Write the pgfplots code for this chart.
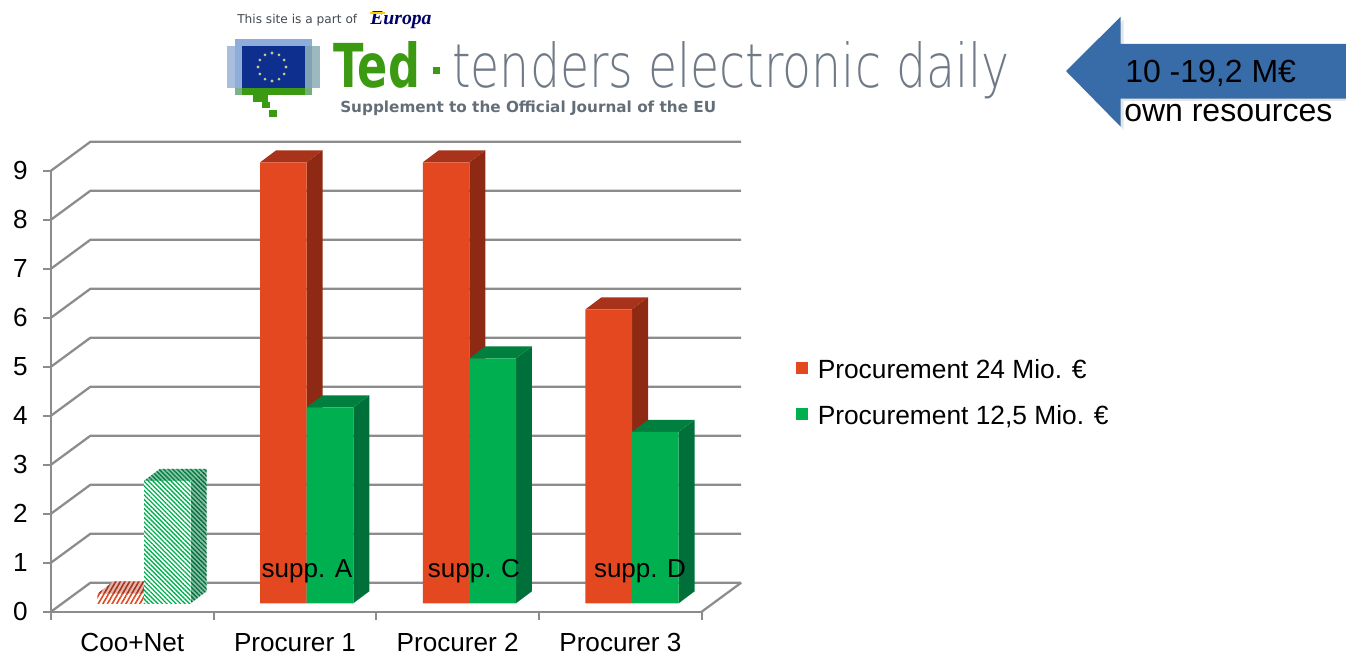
\documentclass[border=0pt]{standalone}
\usepackage{fontspec}
\setmainfont{Liberation Sans}
\newfontfamily\djf{DejaVu Sans}
\newfontfamily\djl{DejaVu Sans ExtraLight}
\newfontfamily\serf{Liberation Serif}
\usepackage{graphicx}
\usepackage{pgfplots}
\pgfplotsset{compat=1.18}
\usetikzlibrary{patterns.meta}
\definecolor{barO}{HTML}{E34820}
\definecolor{barOs}{HTML}{8E2A14}
\definecolor{barOt}{HTML}{A8331A}
\definecolor{barG}{HTML}{00B050}
\definecolor{barGs}{HTML}{00703A}
\definecolor{barGt}{HTML}{007F3F}
\definecolor{axg}{HTML}{8C8C8C}
\definecolor{arr}{HTML}{376CA8}
\definecolor{tedg}{HTML}{3C9A12}
\definecolor{tedt}{HTML}{6F7A86}
\definecolor{flagA}{HTML}{A9BEDD}
\definecolor{flagB}{HTML}{9DB9C0}
\definecolor{flagC}{HTML}{8FADDB}
\definecolor{flagD}{HTML}{7FA3B0}
\definecolor{flagN}{HTML}{0F2F8F}
\definecolor{flagS}{HTML}{C9CE8A}
\tikzset{hatchG/.style={pattern={Lines[angle=-45,distance=2.4pt,line width=1pt]},pattern color=#1},
         hatchO/.style={pattern={Lines[angle=60,distance=3pt,line width=1.2pt]},pattern color=#1},
         plane/.style={xshift=8.78pt,yshift=6.3pt}}
% side and top faces of a bar: left, right, value, options of side, options of top
\newcommand\faces[5]{%
 \pgfmathsetmacro\xa{#2+0.0983}\pgfmathsetmacro\xb{#1+0.0983}%
 \pgfmathsetmacro\yt{#3+0.245}%
 \addplot[plane,draw=none,forget plot,fill=white,#4] coordinates {(#2,0) (\xa,0.245) (\xa,\yt) (#2,#3)} --cycle;
 \addplot[plane,draw=none,forget plot,fill=white,#5] coordinates {(#1,#3) (\xb,\yt) (\xa,\yt) (#2,#3)} --cycle;
}
\newcommand\gridl[1]{%
 \pgfmathsetmacro\yy{#1+0.592}%
 \addplot[axg,line width=1.7pt,forget plot] coordinates {(0,#1) (0.2428,\yy) (4.2428,\yy)};
}
\begin{document}
\begin{tikzpicture}
\useasboundingbox (0,0) rectangle (1009.5pt,490.5pt);
\begin{axis}[
  at={(38.25pt,31.725pt)},anchor=south west,
  scale only axis,width=488.025pt,height=330.75pt,
  xmin=0,xmax=4,ymin=0,ymax=9,clip=false,
  axis x line*=bottom,axis y line*=left,
  axis line style={axg,line width=1.7pt},
  tick style={axg,line width=1.7pt},
  major tick length=6pt,tick align=outside,
  ytick={0,...,9},xtick={0,1,2,3,4},xticklabels={},
  extra x ticks={0.5,1.5,2.5,3.5},
  extra x tick labels={Coo+Net,Procurer 1,Procurer 2,Procurer 3},
  extra x tick style={major tick length=0pt,tick style={draw=none}},
  /pgf/number format/assume math mode=true,
  ticklabel style={font=\fontsize{19.6pt}{22pt}\selectfont,text=black},
  xticklabel style={inner sep=0pt,yshift=-16pt},
  yticklabel style={xshift=-8pt},
  legend cell align=left,
  legend style={at={(1.139,0.4968)},anchor=west,draw=none,fill=none,
    font=\fontsize{19.75pt}{21pt}\selectfont,row sep=14.75pt},
]
% back wall and floor
\gridl{0}\gridl{1}\gridl{2}\gridl{3}\gridl{4}\gridl{5}\gridl{6}\gridl{7}\gridl{8}\gridl{9}
\addplot[axg,line width=1.7pt,forget plot] coordinates {(4,0) (4.2428,0.592)};
% Procurement 24 Mio.
\faces{1.2135}{1.5}{9}{fill=barOs}{fill=barOt}
\faces{2.2135}{2.5}{9}{fill=barOs}{fill=barOt}
\faces{3.2135}{3.5}{6}{fill=barOs}{fill=barOt}
\addplot[ybar,bar width=0.2865,bar shift=-0.14325,plane,fill=barO,draw=none,
  legend image code/.code={\fill[barO] (0pt,-9.75pt) rectangle (9pt,-0.75pt);\path (14pt,0pt);}]
  coordinates {(1.5,9) (2.5,9) (3.5,6)};
\addlegendentry{Procurement 24 Mio. €}
\faces{0.2135}{0.5}{0.2}{hatchO=barOs,preaction={fill=barOs!35!white}}{hatchO=barOt,preaction={fill=barOt!35!white}}
\addplot[ybar,bar width=0.2865,bar shift=-0.14325,plane,draw=none,forget plot,
  preaction={fill=white},hatchO=barO] coordinates {(0.5,0.2)};
% Procurement 12,5 Mio.
\faces{1.5}{1.7865}{4}{fill=barGs}{fill=barGt}
\faces{2.5}{2.7865}{5}{fill=barGs}{fill=barGt}
\faces{3.5}{3.7865}{3.5}{fill=barGs}{fill=barGt}
\addplot[ybar,bar width=0.2865,bar shift=0.14325,plane,fill=barG,draw=none,
  legend image code/.code={\fill[barG] (0pt,-9.75pt) rectangle (9pt,-0.75pt);\path (14pt,0pt);}]
  coordinates {(1.5,4) (2.5,5) (3.5,3.5)};
\addlegendentry{Procurement 12,5 Mio. €}
\faces{0.5}{0.7865}{2.5}{hatchG=barGs,preaction={fill=barGs!45!white}}{hatchG=barGt,preaction={fill=barGt!45!white}}
\addplot[ybar,bar width=0.2865,bar shift=0.14325,plane,draw=none,forget plot,
  preaction={fill=white},hatchG=barG] coordinates {(0.5,2.5)};
\end{axis}
\begin{scope}[x=0.75pt,y=-0.75pt,yshift=490.5pt]
 % bar annotations
 \node[font=\fontsize{19.5pt}{22pt}\selectfont,text=black] at (307,571) {supp. A};
 \node[font=\fontsize{19.5pt}{22pt}\selectfont,text=black] at (474,571) {supp. C};
 \node[font=\fontsize{19.5pt}{22pt}\selectfont,text=black] at (640,571) {supp. D};
 % arrow
 \fill[black,opacity=.10] (1069,74)--(1123.7,20)--(1123.7,47)--(1346,47)--(1346,101)--(1123.7,101)--(1123.7,130)--cycle;
 \fill[arr] (1066,71)--(1120.7,16.7)--(1120.7,44)--(1346,44)--(1346,98.7)--(1120.7,98.7)--(1120.7,126.7)--cycle;
 \node[anchor=base west,inner sep=0pt,font=\fontsize{24pt}{26pt}\selectfont] at (1125,83) {10 -19,2 M€};
 \node[anchor=base west,inner sep=0pt,font=\fontsize{24pt}{26pt}\selectfont] at (1124,122) {own resources};
 % TED banner
 \node[anchor=base west,inner sep=0pt,text=tedt!60!black] at (237,24) {\resizebox{90pt}{!}{\djf This site is a part of}};
 \node[anchor=base west,inner sep=0pt,text=blue!40!black] at (370,25) {\resizebox{46pt}{!}{\serf\bfseries\itshape Europa}};
 \fill[yellow!70!orange] (370,12) rectangle (385,14);
 \fill[flagA] (227,46) rectangle (242,88);
 \fill[flagB] (305,46) rectangle (320,88);
 \fill[flagC] (235,39) rectangle (312,46);
 \fill[flagC] (235,46) rectangle (242,88);
 \fill[flagD] (305,46) rectangle (312,88);
 \fill[flagA!60!tedg] (235,88) rectangle (242,95);
 \fill[flagB!60!tedg] (305,88) rectangle (312,95);
 \fill[tedg] (242,88) rectangle (305,95);
 \fill[tedg] (253,95) rectangle (268,102);
 \fill[tedg] (262,102) rectangle (270,108);
 \fill[tedg] (269,110) rectangle (277,117);
 \fill[flagN] (242,46) rectangle (305,88);
 \foreach \a in {0,30,...,330}{\fill[flagS] (272,67)++(\a:14) circle (1.6);}
 \node[anchor=base west,inner sep=0pt,text=tedg] at (333,88) {\resizebox{65pt}{34.5pt}{\djf\bfseries Ted}};
 \fill[tedg] (433,67) rectangle (440,74);
 \node[anchor=base west,inner sep=0pt,text=tedt] at (452,88) {\resizebox{418pt}{34.5pt}{\djl tenders electronic daily}};
 \node[anchor=base west,inner sep=0pt,text=tedt!90!black] at (340,113) {\resizebox{282pt}{!}{\djf\bfseries Supplement to the Official Journal of the EU}};
\end{scope}
\end{tikzpicture}
\end{document}
